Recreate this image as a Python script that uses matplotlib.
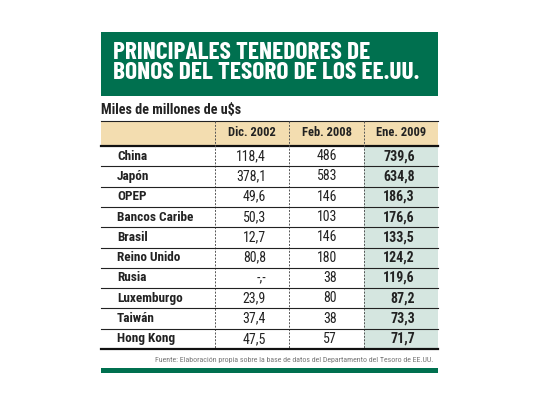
import matplotlib
matplotlib.use("Agg")
import matplotlib.pyplot as plt
from matplotlib.patches import Rectangle

# Datos de la tabla
titulo = "PRINCIPALES TENEDORES DE\nBONOS DEL TESORO DE LOS EE.UU."
subtitulo = "Miles de millones de u$s"
columnas = ["Dic. 2002", "Feb. 2008", "Ene. 2009"]
paises = ["China", "Japón", "OPEP", "Bancos Caribe", "Brasil", "Reino Unido",
          "Rusia", "Luxemburgo", "Taiwán", "Hong Kong"]
dic_2002 = ["118,4", "378,1", "49,6", "50,3", "12,7", "80,8", "-,-", "23,9", "37,4", "47,5"]
feb_2008 = ["486", "583", "146", "103", "146", "180", "38", "80", "38", "57"]
ene_2009 = ["739,6", "634,8", "186,3", "176,6", "133,5", "124,2", "119,6", "87,2", "73,3", "71,7"]
fuente = "Fuente: Elaboración propia sobre la base de datos del Departamento del Tesoro de EE.UU."

verde = "#00704f"
beige = "#f3ddb0"
celeste = "#d5e6e0"
fuentes = ["Roboto Condensed", "Archivo Narrow", "DejaVu Sans"]
fuentes_titulo = ["Barlow Condensed", "Roboto Condensed", "DejaVu Sans"]

fig = plt.figure(figsize=(5.4, 4.05), dpi=100)
ax = fig.add_axes([0, 0, 1, 1])
ax.set_xlim(0, 540)
ax.set_ylim(405, 0)
ax.axis("off")

x0, x1 = 101, 438
# Caja del título
ax.add_patch(Rectangle((x0, 32), x1 - x0, 64, color=verde, lw=0))
ax.text(113, 63, titulo, color="white", fontsize=18.3, fontweight="bold",
        family=fuentes_titulo, va="center", ha="left", linespacing=0.92)

ax.text(x0, 110, subtitulo, fontsize=10.2, fontweight="bold", family=fuentes,
        va="center", ha="left", color="#222222")
ax.plot([x0, x1], [120.5, 120.5], color="#222222", lw=0.8)

# Encabezado
sep = [215, 289, 364]
ax.add_patch(Rectangle((x0, 121), x1 - x0, 24, color=beige, lw=0))
top_filas = 146
alto = 20.3
fin = top_filas + alto * len(paises)
ax.add_patch(Rectangle((sep[2], top_filas), x1 - sep[2], fin - top_filas, color=celeste, lw=0))
centros = [(sep[0] + sep[1]) / 2, (sep[1] + sep[2]) / 2, (sep[2] + x1) / 2]
for c, nombre in zip(centros, columnas):
    ax.text(c, 133, nombre, fontsize=9, fontweight="bold", family=fuentes,
            ha="center", va="center", color="#222222")
ax.plot([x0, x1], [145.5, 145.5], color="#111111", lw=1.6)

for s in sep:
    ax.plot([s, s], [121, fin], color="#555555", lw=0.7, ls=(0, (2, 1.5)))

# Filas
der = [266, 337, 415]
for i, pais in enumerate(paises):
    y = top_filas + alto * (i + 0.5)
    ax.text(117, y, pais, fontsize=9.5, fontweight="bold", family=fuentes,
            ha="left", va="center", color="#222222")
    ax.text(der[0], y, dic_2002[i], fontsize=10, family=fuentes,
            ha="right", va="center", color="#222222")
    ax.text(der[1], y, feb_2008[i], fontsize=10, family=fuentes,
            ha="right", va="center", color="#222222")
    ax.text(der[2], y, ene_2009[i], fontsize=10, fontweight="bold", family=fuentes,
            ha="right", va="center", color="#222222")
    if i < len(paises) - 1:
        yl = top_filas + alto * (i + 1)
        ax.plot([x0, x1], [yl, yl], color="#222222", lw=0.8)
ax.plot([x0, x1], [fin, fin], color="#111111", lw=1.6)

ax.text(433, 360, fuente, fontsize=5.7, family=fuentes, ha="right", va="center",
        color="#777777")
ax.add_patch(Rectangle((x0, 368), x1 - x0, 5, color=verde, lw=0))

fig.savefig("out.png", dpi=100)
